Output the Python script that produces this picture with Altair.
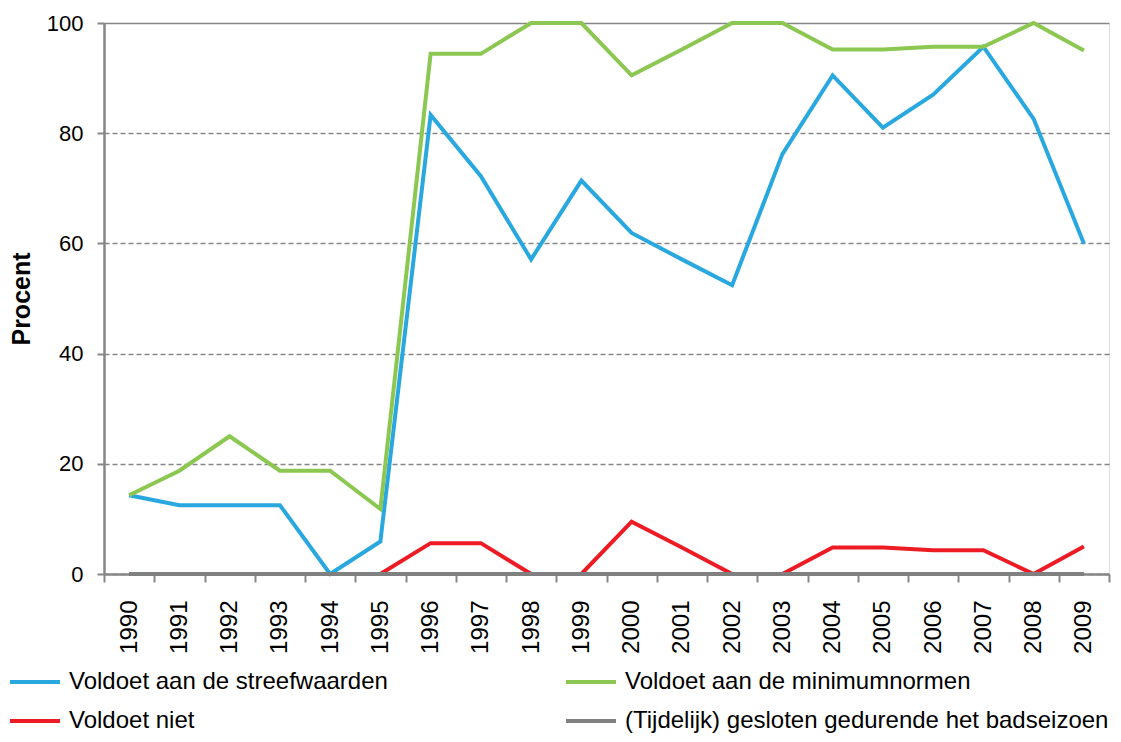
import altair as alt
import pandas as pd

years = list(range(1990, 2010))
streefwaarden = [14.3, 12.5, 12.5, 12.5, 0.0, 5.9, 83.3, 72.2, 57.1, 71.4,
                 61.9, 57.1, 52.4, 76.2, 90.5, 81.0, 87.0, 95.7, 82.6, 60.0]
minimumnormen = [14.3, 18.75, 25.0, 18.75, 18.75, 11.8, 94.4, 94.4, 100.0, 100.0,
                 90.5, 95.2, 100.0, 100.0, 95.2, 95.2, 95.7, 95.7, 100.0, 95.0]
voldoet_niet = [0.0, 0.0, 0.0, 0.0, 0.0, 0.0, 5.6, 5.6, 0.0, 0.0,
                9.5, 4.8, 0.0, 0.0, 4.8, 4.8, 4.3, 4.3, 0.0, 5.0]
gesloten = [0.0, 0.0, 0.0, 0.0, 0.0, 0.0, 0.0, 0.0, 0.0, 0.0,
            0.0, 0.0, 0.0, 0.0, 0.0, 0.0, 0.0, 0.0, 0.0, 0.0]

series_names = [
    "Voldoet aan de streefwaarden",
    "Voldoet aan de minimumnormen",
    "Voldoet niet",
    "(Tijdelijk) gesloten gedurende het badseizoen",
]
series_values = [streefwaarden, minimumnormen, voldoet_niet, gesloten]
series_colors = ["#29a8e0", "#8cc751", "#ed1c24", "#808080"]

rows = []
for name, vals in zip(series_names, series_values):
    for y, v in zip(years, vals):
        rows.append({"jaar": y, "procent": v, "reeks": name})
df = pd.DataFrame(rows)

boundaries = [y - 0.5 for y in years] + [years[-1] + 0.5]
x_scale = alt.Scale(domain=[boundaries[0], boundaries[-1]], nice=False, zero=False)
y_scale = alt.Scale(domain=[0, 100], nice=False)

FONT = "Liberation Sans"
GRAY = "#868686"

color = alt.Color(
    "reeks:N",
    scale=alt.Scale(domain=series_names, range=series_colors),
    legend=alt.Legend(
        title=None,
        orient="none",
        legendX=-96,
        legendY=632,
        direction="horizontal",
        columns=2,
        symbolType="stroke",
        symbolSize=2500,
        symbolStrokeWidth=4,
        labelFont=FONT,
        labelFontSize=24,
        labelColor="#000000",
        labelLimit=600,
        columnPadding=170,
        rowPadding=-14,
        labelOffset=7,
    ),
)

y_enc = alt.Y(
    "procent:Q",
    scale=y_scale,
    title="Procent",
    axis=alt.Axis(
        values=[0, 20, 40, 60, 80, 100],
        titleFont=FONT,
        titleFontSize=25,
        titleFontWeight="bold",
        titleColor="#000000",
        titlePadding=12,
        labelFont=FONT,
        labelFontSize=22,
        labelColor="#000000",
        labelPadding=14,
        tickSize=7,
        tickColor=GRAY,
        tickWidth=2,
        domainColor=GRAY,
        domainWidth=2.5,
        gridColor=GRAY,
        gridDash=alt.condition("datum.value === 100", alt.value([]), alt.value([5, 3])),
        gridWidth=1.3,
    ),
)

layers = []
for i, name in enumerate(series_names):
    if i == 0:
        x_enc = alt.X(
            "jaar:Q",
            scale=x_scale,
            title=None,
            axis=alt.Axis(
                values=years,
                format="d",
                orient="bottom",
                ticks=False,
                grid=False,
                labelAngle=-90,
                labelFont=FONT,
                labelFontSize=24,
                labelColor="#000000",
                labelPadding=26,
                domainColor=GRAY,
                domainWidth=2.5,
            ),
        )
    else:
        x_enc = alt.X("jaar:Q", scale=x_scale, title=None, axis=None)
    layers.append(
        alt.Chart(df)
        .transform_filter(alt.datum.reeks == name)
        .mark_line(strokeWidth=4, clip=False)
        .encode(x=x_enc, y=y_enc, color=color)
    )

tick_layer = (
    alt.Chart(df)
    .transform_filter(alt.datum.reeks == series_names[0])
    .mark_line(opacity=0)
    .encode(
        x=alt.X(
            "jaar:Q",
            scale=x_scale,
            title=None,
            axis=alt.Axis(
                values=boundaries,
                orient="bottom",
                labels=False,
                grid=False,
                domain=False,
                ticks=True,
                tickSize=8,
                tickColor=GRAY,
                tickWidth=2,
            ),
        ),
        y=y_enc,
    )
)

chart = (
    alt.layer(tick_layer, *layers)
    .resolve_axis(x="independent")
    .properties(
        width=1005,
        height=551,
        autosize=alt.AutoSizeParams(type="none"),
        padding={"left": 96, "top": 15, "right": 4, "bottom": 160},
    )
    .configure_view(stroke=GRAY, strokeWidth=2.5)
    .configure(background="white")
)

chart.save("out.html", embed_options={"renderer": "svg", "actions": False})
